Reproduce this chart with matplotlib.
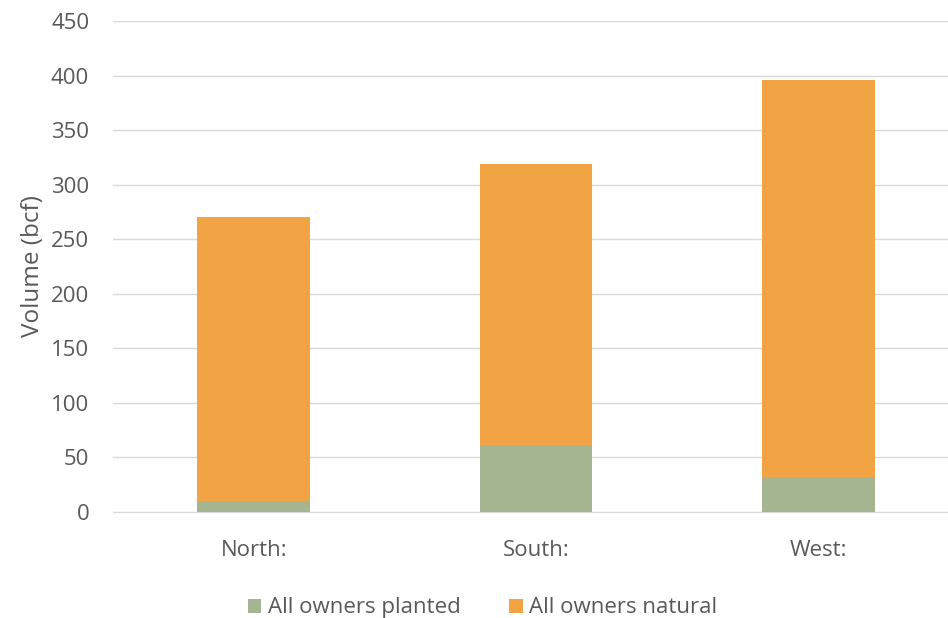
import matplotlib.pyplot as plt

regions = ['North:', 'South:', 'West:']
planted = [10, 61, 32]
natural = [260, 258, 364]

plt.rcParams['font.family'] = ['Open Sans', 'DejaVu Sans']
txt = '#595959'

fig = plt.figure(figsize=(9.48, 6.18), dpi=100)
ax = fig.add_axes([0.119, 0.1715, 0.881, 0.7945])

x = range(len(regions))
ax.bar(x, planted, width=0.4, color='#A5B592', label='All owners planted', zorder=3)
ax.bar(x, natural, width=0.4, bottom=planted, color='#F2A444', label='All owners natural', zorder=3)

ax.set_ylim(0, 450)
ax.set_xlim(-0.5, 2.46)
ax.set_yticks(range(0, 451, 50))
ax.set_xticks(list(x))
ax.set_xticklabels(regions)
ax.yaxis.grid(True, color='#D9D9D9', linewidth=1)
ax.set_axisbelow(True)
for s in ['top', 'right', 'left']:
    ax.spines[s].set_visible(False)
ax.spines['bottom'].set_color('#D9D9D9')
ax.tick_params(axis='both', length=0, labelsize=16, colors=txt)
ax.tick_params(axis='x', pad=20)
ax.tick_params(axis='y', pad=17)
ax.set_ylabel('Volume (bcf)', fontsize=17.5, color=txt, labelpad=4)

fig.legend(loc='lower center', bbox_to_anchor=(0.509, -0.033), ncol=2, frameon=False,
           fontsize=16, labelcolor=txt, handlelength=0.6, handleheight=0.6,
           handletextpad=0.3, columnspacing=2.2)

fig.savefig('out.png', dpi=100)
